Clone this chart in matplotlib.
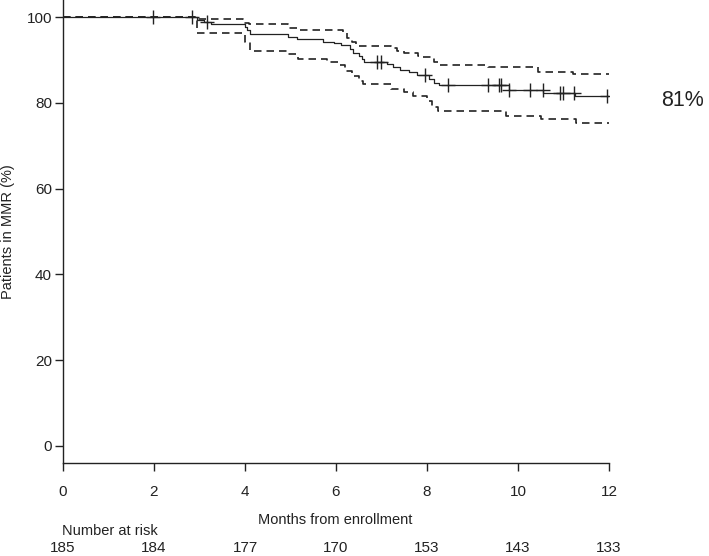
import matplotlib
matplotlib.use("Agg")
from matplotlib import pyplot as plt
from matplotlib import transforms

plt.rcParams['font.family'] = ['Liberation Sans', 'DejaVu Sans']

# Kaplan-Meier estimate (step times in months, % in MMR)
km_t = [0, 2.95, 3.1, 3.25, 4.0, 4.05, 4.12, 4.95, 5.15, 5.72, 5.95, 6.1, 6.31, 6.38,
        6.5, 6.58, 6.62, 7.12, 7.25, 7.4, 7.6, 7.78, 8.04, 8.15, 8.26, 9.8, 10.55, 11.25, 12]
km_s = [100, 99.4, 98.9, 98.5, 97.7, 96.9, 96.1, 95.3, 94.9, 94.3, 93.9, 93.5, 92.5, 91.7,
        91.0, 90.2, 89.6, 89.0, 88.4, 87.7, 87.1, 86.4, 85.5, 84.7, 84.2, 83.1, 82.4, 81.7, 81.7]

# 95% confidence band
up_t = [0, 2.95, 3.95, 4.08, 4.95, 5.15, 6.15, 6.25, 6.35, 6.45, 7.2, 7.35, 7.5, 7.8,
        7.9, 8.15, 8.25, 9.35, 10.45, 11.2, 12]
up_s = [100, 99.5, 98.6, 98.3, 97.5, 97.0, 96.3, 95.2, 94.1, 93.3, 92.9, 92.2, 91.7, 91.0,
        90.6, 89.6, 88.8, 88.3, 87.3, 86.7, 86.7]
lo_t = [0, 2.95, 4.0, 4.1, 4.95, 5.17, 5.8, 6.05, 6.2, 6.35, 6.5, 6.6, 7.2, 7.5, 7.7,
        8.0, 8.12, 8.25, 9.73, 10.5, 11.27, 12]
lo_s = [100, 96.2, 94.1, 92.1, 91.4, 90.3, 89.6, 88.8, 87.5, 86.3, 85.1, 84.3, 83.3, 82.6, 81.6,
        80.4, 79.0, 78.1, 76.9, 76.3, 75.4, 75.4]

# censored observations
cens_t = [1.97, 2.83, 3.17, 6.91, 6.98, 7.96, 8.47, 9.33, 9.58, 9.62, 9.8,
          10.26, 10.54, 10.93, 10.99, 11.23, 11.96]

risk_t = [0, 2, 4, 6, 8, 10, 12]
risk_n = [185, 184, 177, 170, 153, 143, 133]


def surv_at(t):
    val = km_s[0]
    for tt, ss in zip(km_t, km_s):
        if tt <= t:
            val = ss
    return val


fig = plt.figure(figsize=(7.09, 5.56), dpi=100)
ax = fig.add_axes([63 / 709, 93 / 556, 546 / 709, 463 / 556])

ax.step(km_t, km_s, where='post', color='#222222', lw=0.9)
ax.step(up_t, up_s, where='post', color='#222222', lw=1.2, dashes=(4.5, 3))
ax.step(lo_t, lo_s, where='post', color='#222222', lw=1.2, dashes=(4.5, 3))
ax.plot(cens_t, [surv_at(t) for t in cens_t], ls='none', marker='+',
        ms=10, mew=1.0, color='#222222')

ax.set_xlim(0, 12)
ax.set_ylim(-4, 104)
ax.set_xticks(risk_t)
ax.set_yticks([0, 20, 40, 60, 80, 100])
for s in ['top', 'right']:
    ax.spines[s].set_visible(False)
for s in ['left', 'bottom']:
    ax.spines[s].set_linewidth(1.0)
    ax.spines[s].set_color('#222222')
ax.tick_params(axis='both', direction='out', length=6, width=1.0, color='#222222',
               labelsize=11, labelcolor='#222222')
ax.tick_params(axis='x', pad=10)
ax.tick_params(axis='y', pad=2)
ax.set_ylabel('Patients in MMR (%)', fontsize=10.5, color='#222222')
ax.yaxis.set_label_coords(-0.087, 0.5)

fig.text(335 / 709, 1 - 520 / 556, 'Months from enrollment', fontsize=10.5,
         ha='center', va='center', color='#222222')
fig.text(110 / 709, 1 - 531 / 556, 'Number at risk', fontsize=10.5,
         ha='center', va='center', color='#222222')
tr = transforms.blended_transform_factory(ax.transData, fig.transFigure)
for t, n in zip(risk_t, risk_n):
    ax.text(t, 1 - 548 / 556, str(n), transform=tr, fontsize=11, ha='center',
            va='center', color='#222222', clip_on=False)

fig.text(683 / 709, 1 - 100 / 556, '81%', fontsize=15.5, ha='center', va='center',
         color='#222222')

fig.savefig('out.png', dpi=100)
